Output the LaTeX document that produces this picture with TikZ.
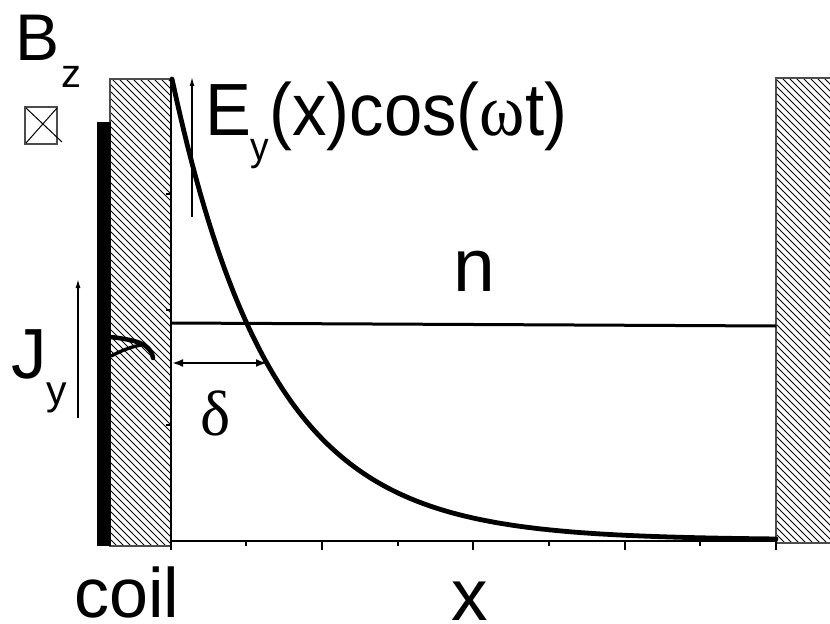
\documentclass[tikz,border=0pt]{standalone}
\usepackage{fontspec}
\usepackage{graphicx}
\setmainfont{Liberation Sans}
\newfontfamily\grk{Liberation Serif}
\usetikzlibrary{arrows.meta}
\newcommand{\fsz}[1]{\fontsize{#1bp}{#1bp}\selectfont}
\begin{document}
\begin{tikzpicture}[x=1bp,y=-1bp,
  lbl/.style={inner sep=0pt, outer sep=0pt},
  axisline/.style={line width=2bp},
  hatchline/.style={line width=0.8bp},
  walledge/.style={draw=black!70, line width=1.4bp},
  arr/.style={line width=1.4bp, -{Latex[length=9bp,width=5bp]}},
  dbl/.style={line width=2.4bp, {Latex[length=11bp,width=8bp]}-{Latex[length=11bp,width=8bp]}},
  decay/.style={line width=4.8bp},
  nline/.style={line width=3bp},
  tick/.style={line width=1.5bp}]
\useasboundingbox (0,0) rectangle (830,624);

% left wall hatching
\begin{scope}
  \clip (110,79) rectangle (171,546);
  \foreach \i in {-364,-357,...,176} \draw[hatchline] (\i,79) -- ++(480,480);
\end{scope}
\draw[walledge] (110,79) rectangle (171,546);

% right wall hatching
\begin{scope}
  \clip (776,78) rectangle (832,543);
  \foreach \i in {306,313,...,836} \draw[hatchline] (\i,78) -- ++(480,480);
\end{scope}
\draw[walledge] (832,78) -- (776,78) -- (776,543) -- (832,543);

% coil bar
\fill (97,122) rectangle (111,546);

% axes
\draw[axisline] (171,79) -- (171,541) -- (776,541);
\foreach \xx in {171,322,473,625,776} \draw[tick] (\xx,541) -- (\xx,550);
\foreach \xx in {246,398,549,700} \draw[tick] (\xx,541) -- (\xx,546);
\foreach \yy in {194,310,425} \draw[tick] (171,\yy) -- (166,\yy);

% density line
\draw[nline] (171,323) -- (776,326);

% decaying field
\draw[decay, line cap=round] plot[domain=172:776, samples=150] (\x, {540-461*exp(-(\x-172)/99)});

% hook on the coil
\draw[line width=4.5bp, line cap=round] (111,337) .. controls (134,340) and (151,343) .. (153,358);
\draw[line width=3.4bp] (111,356) .. controls (121,351) and (130,347) .. (141,345);

% B_z symbol box
\draw[draw=black!70, line width=1.2bp] (25,107) rectangle (57,144);
\draw[line width=1bp] (26,108) -- (62,142);
\draw[line width=1bp] (57,108) -- (26,143);

% arrows
\coordinate (EyS) at (192,217);
\coordinate (EyE) at (192,77);
\draw[arr] (EyS) -- (EyE);
\coordinate (JyS) at (78,418);
\coordinate (JyE) at (78,279);
\draw[arr] (JyS) -- (JyE);
\coordinate (dL) at (172,363);
\coordinate (dR) at (267,363);
\draw[dbl] (dL) -- (dR);

% labels
\node[lbl, anchor=base west] (Bz) at (15,61) {\fsz{66}B\hspace{2bp}\raisebox{-27bp}{\fsz{40}z}};
\node[lbl, anchor=base west] (Ey) at (205,136) {\scalebox{0.93}[1]{\fsz{74}E\raisebox{-25bp}{\fsz{40}y}(x)cos({\grk ω}t)}};
\node[lbl, anchor=base west] (Jy) at (11,378) {\fsz{71}J\raisebox{-26bp}{\fsz{41}y}};
\node[lbl, anchor=base] (n) at (474,291) {\fsz{75}n};
\node[lbl, anchor=base] (xl) at (469.5,620) {\fsz{73}x};
\node[lbl, anchor=base] (coil) at (127,617) {\fsz{70}coil};
\node[lbl, anchor=base] (delta) at (215.5,435) {\grk\fsz{64}δ};
\end{tikzpicture}
\end{document}
